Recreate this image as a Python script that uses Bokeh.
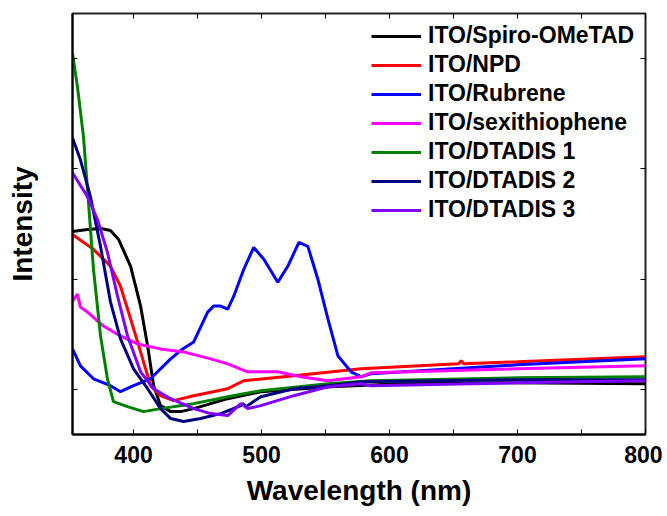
from bokeh.plotting import figure
from bokeh.models import FixedTicker, LinearAxis, Range1d, Legend, LegendItem
from bokeh.embed import file_html
from bokeh.resources import INLINE

# Wavelength (nm) / intensity (a.u.)
wl_spiro = [352.3, 364.0, 374.2, 382.0, 388.3, 397.7, 405.5, 411.0, 415.7, 421.1, 429.0, 436.8, 447.0, 473.6, 499.4, 554.2, 609.0, 687.0, 800.0]
in_spiro = [204, 206, 207, 205, 196, 169, 129, 89, 49, 29, 23, 23, 26, 36, 43, 48, 51, 52, 51]

wl_npd = [352.3, 368.7, 382.0, 389.8, 397.7, 405.5, 413.3, 421.1, 431.3, 447.0, 473.6, 486.1, 525.2, 577.7, 654.0, 656.0, 658.0, 700.0, 800.0]
in_npd = [201, 186, 169, 149, 116, 83, 49, 39, 34, 39, 46, 54, 59, 66, 71, 74, 71, 73, 78]

wl_rub = [352.3, 358.5, 368.7, 382.0, 389.8, 400.0, 413.3, 421.1, 429.0, 438.4, 447.0, 457.9, 462.6, 468.1, 473.6, 478.3, 486.1, 493.9, 501.8, 512.7, 520.5, 529.2, 536.2, 544.0, 551.9, 559.7, 569.9, 577.7, 585.5, 700.0, 800.0]
in_rub = [86, 69, 56, 49, 43, 49, 56, 66, 76, 86, 93, 123, 129, 129, 126, 139, 166, 188, 176, 153, 169, 193, 189, 156, 116, 79, 63, 58, 61, 70, 76]

wl_sexi = [352.3, 356.2, 358.5, 364.0, 376.5, 389.8, 403.1, 421.1, 439.1, 460.3, 473.6, 489.2, 512.7, 530.7, 551.9, 577.7, 585.5, 700.0, 800.0]
in_sexi = [134, 141, 128, 123, 109, 99, 91, 86, 83, 76, 71, 63, 63, 58, 54, 58, 62, 66, 69]

wl_d1 = [352.3, 356.2, 360.9, 364.8, 368.7, 374.2, 379.6, 384.3, 395.3, 407.8, 421.1, 447.0, 473.6, 499.4, 551.9, 585.5, 700.0, 800.0]
in_d1 = [383, 349, 299, 233, 166, 99, 56, 33, 28, 23, 26, 31, 38, 44, 51, 54, 57, 58]

wl_d2 = [352.3, 358.5, 366.3, 374.2, 382.0, 389.8, 400.0, 411.0, 421.1, 429.0, 439.1, 452.4, 468.1, 483.8, 485.3, 488.0, 499.4, 525.2, 551.9, 577.7, 700.0, 800.0]
in_d2 = [298, 276, 239, 189, 133, 96, 66, 46, 26, 16, 13, 16, 21, 29, 31, 28, 38, 46, 49, 53, 55, 55]

wl_d3 = [352.3, 364.0, 371.8, 379.6, 387.5, 395.3, 405.5, 415.7, 429.0, 447.0, 460.3, 473.6, 483.8, 489.2, 499.4, 525.2, 551.9, 577.7, 585.5, 700.0, 800.0]
in_d3 = [263, 239, 216, 183, 139, 99, 63, 46, 36, 26, 21, 19, 31, 26, 29, 39, 48, 51, 49, 52, 54]

labels = ["ITO/Spiro-OMeTAD", "ITO/NPD", "ITO/Rubrene", "ITO/sexithiophene",
          "ITO/DTADIS 1", "ITO/DTADIS 2", "ITO/DTADIS 3"]
colors = ["#000000", "#ff0000", "#0000ff", "#ff00ff", "#008000", "#000080", "#8000ff"]
series = [(wl_spiro, in_spiro), (wl_npd, in_npd), (wl_rub, in_rub), (wl_sexi, in_sexi),
          (wl_d1, in_d1), (wl_d2, in_d2), (wl_d3, in_d3)]

x_major = [400, 500, 600, 700, 800]
x_minor = [450, 550, 650, 750]
x_all = [400, 450, 500, 550, 600, 650, 700, 750, 800]
y_ticks = [45, 156, 267, 378]

FONT = "Liberation Sans"

p = figure(width=662, height=516, x_range=Range1d(352.3, 800), y_range=Range1d(0, 423),
           output_backend="svg", toolbar_location=None,
           min_border_left=72, min_border_right=17, min_border_top=13, min_border_bottom=82)
p.xgrid.visible = False
p.ygrid.visible = False
p.outline_line_color = "#222222"
p.outline_line_width = 2
p.background_fill_color = "white"
p.border_fill_color = "white"

xt = FixedTicker(ticks=x_major, minor_ticks=x_minor)
# unlabeled axes: only minor ticks, so no tick-label texts are produced
yt_plain = FixedTicker(ticks=[], minor_ticks=y_ticks)
xt_plain = FixedTicker(ticks=[], minor_ticks=x_all)

xa = p.xaxis[0]
xa.ticker = xt
xa.axis_line_width = 2
xa.major_tick_in = 5
xa.major_tick_out = 0
xa.minor_tick_in = 5
xa.minor_tick_out = 0
xa.major_label_standoff = 11
xa.major_label_text_font = FONT
xa.major_label_text_font_style = "bold"
xa.major_label_text_font_size = "23px"
xa.major_label_text_color = "black"
xa.axis_label = "Wavelength (nm)"
xa.axis_label_text_font = FONT
xa.axis_label_text_font_style = "bold"
xa.axis_label_text_font_size = "28px"
xa.axis_label_text_color = "black"
xa.axis_label_standoff = 9

ya = p.yaxis[0]
ya.ticker = yt_plain
ya.axis_line_width = 2
ya.major_tick_in = 0
ya.major_tick_out = 0
ya.minor_tick_in = 5
ya.minor_tick_out = 0
ya.major_label_standoff = 0
ya.axis_label = "Intensity"
ya.axis_label_text_font = FONT
ya.axis_label_text_font_style = "bold"
ya.axis_label_text_font_size = "28px"
ya.axis_label_text_color = "black"
ya.axis_label_standoff = 35

top = LinearAxis(ticker=xt_plain, axis_line_color=None,
                 major_tick_in=0, major_tick_out=0, minor_tick_in=5, minor_tick_out=0,
                 major_label_standoff=0, axis_label_standoff=0)
right = LinearAxis(ticker=yt_plain, axis_line_color=None,
                   major_tick_in=0, major_tick_out=0, minor_tick_in=5, minor_tick_out=0,
                   major_label_standoff=0, axis_label_standoff=0)
p.add_layout(top, "above")
p.add_layout(right, "right")

items = []
for (wl, inten), lab, col in zip(series, labels, colors):
    r = p.line(wl, inten, line_color=col, line_width=3)
    items.append(LegendItem(label=lab, renderers=[r]))

legend = Legend(items=items, location=(299, 211), padding=0, margin=0,
                border_line_color=None, background_fill_alpha=0,
                label_text_font=FONT, label_text_font_style="bold",
                label_text_font_size="23px", label_text_color="black",
                glyph_width=50, glyph_height=22, label_height=22,
                spacing=2, label_standoff=7)
p.add_layout(legend)

open("out.html", "w").write(file_html(p, INLINE))
